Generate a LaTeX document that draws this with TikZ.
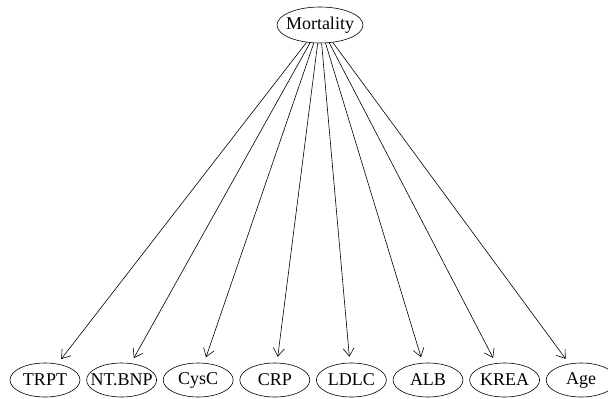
\documentclass[tikz,border=0pt]{standalone}
\usepackage{fontspec}
\setmainfont{Liberation Serif}
\usetikzlibrary{shapes.geometric,arrows.meta}
\newcommand\fixw[1]{\makebox[0pt]{#1}}
\begin{document}
\begin{tikzpicture}[x=1pt,y=1pt,
  var/.style={ellipse,draw,line width=0.6pt,inner sep=0pt,minimum width=70pt,minimum height=34pt,font=\fontsize{18}{21}\selectfont},
  top/.style={var,minimum width=86pt,minimum height=36pt},
  edge/.style={line width=0.6pt,-{Straight Barb[length=8pt,width=11pt,line width=0.6pt]},shorten >=6pt}]
\useasboundingbox[clip] (0,0) rectangle (608,-399);
\fill[white] (0,0) rectangle (608,-399);
\node[top] (M) at (320,-25) {\fixw{Mortality}};
\node[var] (TRPT) at (45,-380) {\fixw{TRPT}};
\node[var] (NTBNP) at (121.6,-380) {\fixw{NT.BNP}};
\node[var] (CysC) at (198.2,-380) {\fixw{CysC}};
\node[var] (CRP) at (274.8,-380) {\fixw{CRP}};
\node[var] (LDLC) at (351.4,-380) {\fixw{LDLC}};
\node[var] (ALB) at (428,-380) {\fixw{ALB}};
\node[var] (KREA) at (504.6,-380) {\fixw{KREA}};
\node[var] (Age) at (581.2,-380) {\fixw{Age}};
\foreach \n in {TRPT,NTBNP,CysC,CRP,LDLC,ALB,KREA,Age}
  \draw[edge] (M) -- (\n);
\end{tikzpicture}
\end{document}
